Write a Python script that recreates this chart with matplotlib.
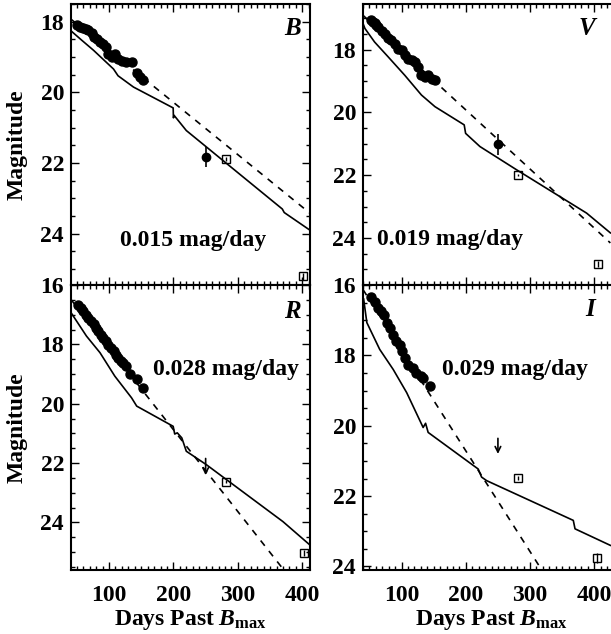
import numpy as np
import matplotlib
matplotlib.use("Agg")
import matplotlib.pyplot as plt
from matplotlib.ticker import MultipleLocator

plt.rcParams['font.family'] = ['Liberation Serif', 'DejaVu Serif']
plt.rcParams['font.weight'] = 'bold'
plt.rcParams['mathtext.fontset'] = 'custom'
plt.rcParams['mathtext.rm'] = 'Liberation Serif:bold'
plt.rcParams['mathtext.it'] = 'Liberation Serif:italic:bold'
plt.rcParams['mathtext.bf'] = 'Liberation Serif:bold'

# ---- data ----
bands = ['B', 'V', 'R', 'I']
rates = ['0.015 mag/day', '0.019 mag/day', '0.028 mag/day', '0.029 mag/day']

# early-time photometry (filled circles)
B_day = [50, 55, 60, 64, 68, 73, 76, 81, 86, 91, 96, 99, 104, 109, 114, 120, 127, 135, 143, 148, 152]
B_mag = [18.09, 18.14, 18.19, 18.22, 18.24, 18.33, 18.43, 18.48, 18.57, 18.62, 18.72, 18.91, 19.00, 18.91, 19.05, 19.10, 19.15, 19.15, 19.44, 19.56, 19.66]
V_day = [52, 55, 58, 61, 64, 69, 74, 79, 84, 90, 95, 100, 105, 110, 116, 121, 126, 131, 136, 141, 147, 152]
V_mag = [17.07, 17.11, 17.16, 17.22, 17.28, 17.41, 17.49, 17.62, 17.70, 17.81, 17.97, 18.02, 18.18, 18.29, 18.34, 18.39, 18.55, 18.82, 18.87, 18.82, 18.95, 18.97]
R_day = [52, 56, 60, 64, 68, 72, 76, 80, 83, 87, 91, 95, 99, 103, 107, 111, 114, 118, 122, 127, 133, 143, 152]
R_mag = [16.66, 16.78, 16.89, 17.00, 17.11, 17.22, 17.33, 17.45, 17.56, 17.68, 17.79, 17.90, 18.01, 18.13, 18.24, 18.35, 18.46, 18.55, 18.63, 18.74, 19.01, 19.18, 19.46]
I_day = [53, 58, 64, 68, 72, 77, 82, 87, 92, 97, 100, 105, 110, 118, 123, 131, 134, 144]
I_mag = [16.33, 16.47, 16.66, 16.75, 16.85, 17.08, 17.23, 17.41, 17.60, 17.70, 17.89, 18.08, 18.26, 18.36, 18.50, 18.59, 18.63, 18.87]

# late-time detections with error bars (filled circles)
late_day = {'B': [250], 'V': [250], 'R': [], 'I': []}
late_mag = {'B': [21.83], 'V': [21.02], 'R': [], 'I': []}
late_err = {'B': [0.28], 'V': [0.34], 'R': [], 'I': []}

# upper limits (arrows): start and tip magnitudes
lim_day = {'B': [], 'V': [], 'R': [250], 'I': [250]}
lim_mag = {'B': [], 'V': [], 'R': [21.75], 'I': [20.28]}
lim_tip = {'B': [], 'V': [], 'R': [22.5], 'I': [20.88]}

# open squares
sq_day = {'B': [281, 401], 'V': [282, 405], 'R': [281, 402], 'I': [282, 404]}
sq_mag = {'B': [21.88, 25.2], 'V': [21.99, 24.83], 'R': [22.62, 25.02], 'I': [21.49, 23.76]}
sq_err = {'B': [0.05, 0.1], 'V': [0.03, 0.1], 'R': [0.05, 0.1], 'I': [0.05, 0.15]}

# model light curves (solid)
mod_day = {
    'B': [41, 58, 76, 107, 114, 138, 199.6, 200, 201, 220, 369, 372, 412],
    'V': [40, 43, 58, 79, 105, 131, 152, 197.5, 199.7, 222, 279, 388, 425],
    'R': [41, 65, 86, 109, 135, 143, 199.6, 202, 206, 213, 220, 251, 370, 412],
    'I': [41, 46, 66, 87, 108, 133.6, 137.4, 141.4, 219.3, 224.6, 232.4, 367.3, 370, 425],
}
mod_mag = {
    'B': [18.26, 18.53, 18.81, 19.34, 19.53, 19.85, 20.44, 20.72, 20.65, 21.08, 23.30, 23.40, 23.90],
    'V': [17.17, 17.33, 17.76, 18.23, 18.82, 19.45, 19.82, 20.40, 20.67, 21.09, 21.83, 23.21, 23.84],
    'R': [16.93, 17.72, 18.28, 19.07, 19.80, 20.08, 20.76, 21.02, 20.98, 21.15, 21.60, 22.05, 23.97, 24.76],
    'I': [16.40, 17.07, 17.83, 18.40, 19.06, 20.05, 19.93, 20.19, 21.23, 21.46, 21.56, 22.69, 22.93, 23.40],
}

# linear decline fits (dashed), end points
fit_day = {'B': [41, 412], 'V': [40, 425], 'R': [41, 375], 'I': [40, 320]}
fit_mag = {'B': [17.93, 23.42], 'V': [16.91, 24.16], 'R': [16.49, 25.70], 'I': [16.13, 24.15]}

early_day = {'B': B_day, 'V': V_day, 'R': R_day, 'I': I_day}
early_mag = {'B': B_mag, 'V': V_mag, 'R': R_mag, 'I': I_mag}

ylims = {'B': (25.45, 17.5), 'V': (25.5, 16.55), 'R': (25.6, 16.0), 'I': (24.1, 16.0)}

W, H = 611, 634
fig = plt.figure(figsize=(W / 100, H / 100), dpi=100)

# axes boxes in pixels: left, top, width, height
boxes = {
    'B': (71, 4, 239, 281),
    'V': (363, 4, 257, 281),
    'R': (71, 285, 239, 285),
    'I': (363, 285, 257, 285),
}
xlims = {'B': (41, 412), 'V': (40, 440), 'R': (41, 412), 'I': (40, 440)}

# label positions in data coords
band_pos = {'B': (385, 18.2), 'V': (389, 17.33), 'R': (385, 16.88), 'I': (393, 16.7)}
rate_pos = {'B': (230, 24.2), 'V': (175, 24.05), 'R': (282, 18.84), 'I': (277, 18.4)}

fs = 17
for b, rate in zip(bands, rates):
    l, t, w, h = boxes[b]
    ax = fig.add_axes([l / W, (H - t - h) / H, w / W, h / H])
    ax.set_xlim(*xlims[b])
    ax.set_ylim(*ylims[b])

    ax.plot(fit_day[b], fit_mag[b], 'k--', lw=1.2, dashes=(4, 4))
    ax.plot(mod_day[b], mod_mag[b], 'k-', lw=1.2)
    ax.plot(early_day[b], early_mag[b], 'o', color='k', ms=6.5)
    if late_day[b]:
        ax.errorbar(late_day[b], late_mag[b], yerr=late_err[b], fmt='o', color='k',
                    ms=6, elinewidth=1.2, capsize=0)
    for d, m, tip in zip(lim_day[b], lim_mag[b], lim_tip[b]):
        ax.annotate('', xy=(d, tip), xytext=(d, m),
                    arrowprops=dict(arrowstyle='->', color='k', lw=1.2))
    ax.errorbar(sq_day[b], sq_mag[b], yerr=sq_err[b], fmt='s', mfc='none', mec='k',
                color='k', ms=6, mew=1.0, elinewidth=1.0, capsize=0)

    ax.text(*band_pos[b], b, fontsize=fs + 1, fontstyle='italic', fontweight='bold',
            ha='center', va='center')
    ax.text(*rate_pos[b], rate, fontsize=fs, fontweight='bold', ha='center', va='center')

    ax.xaxis.set_major_locator(MultipleLocator(100))
    ax.xaxis.set_minor_locator(MultipleLocator(10))
    ax.yaxis.set_major_locator(MultipleLocator(2))
    ax.yaxis.set_minor_locator(MultipleLocator(0.5))
    ax.tick_params(which='both', direction='in', top=True, right=True, labelsize=fs,
                   width=1.0)
    ax.tick_params(which='major', length=6)
    ax.tick_params(which='minor', length=3)
    ax.tick_params(axis='y', which='major', pad=5)
    ax.tick_params(axis='x', which='major', pad=11)
    for s in ax.spines.values():
        s.set_linewidth(1.5)
    if b in ('B', 'V'):
        ax.tick_params(labelbottom=False)
    else:
        ax.set_xlabel(r'Days Past $\mathit{B}_{\rm max}$', fontsize=fs, fontweight='bold',
                      labelpad=1)
    if b in ('B', 'R'):
        ax.set_ylabel('Magnitude', fontsize=fs, fontweight='bold', labelpad=9)

fig.savefig('out.png', dpi=100)
